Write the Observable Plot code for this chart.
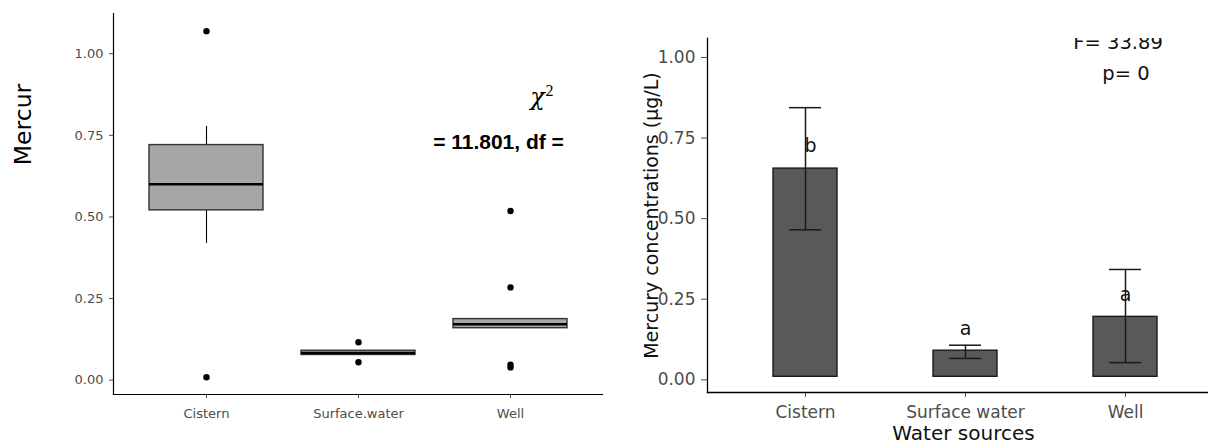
<!DOCTYPE html>
<html><head><meta charset="utf-8">
<script src="https://cdn.jsdelivr.net/npm/d3@7"></script>
<script src="https://cdn.jsdelivr.net/npm/@observablehq/plot@0.6"></script>
<style>
body{margin:0;background:#fff;}
#wrap{position:relative;width:1208px;height:443px;overflow:hidden;background:#fff;}
#left{position:absolute;left:0;top:0;width:610px;height:443px;}
#right{position:absolute;left:610px;top:0;width:612px;height:443px;}
#wrap svg{max-width:none !important;display:block;}
</style></head><body><div id="wrap"><div id="left"></div><div id="right"></div></div>
<script>
// ---- Left panel: boxplot ----
const boxCategories = ["Cistern", "Surface.water", "Well"];
const boxLower  = [0.410, 0.068, 0.150];
const boxQ1     = [0.511, 0.068, 0.150];
const boxMedian = [0.591, 0.074, 0.162];
const boxQ3     = [0.711, 0.081, 0.178];
const boxUpper  = [0.768, 0.081, 0.178];
const outlierCategory = ["Cistern", "Cistern", "Surface.water", "Surface.water", "Well", "Well", "Well", "Well"];
const outlierValue    = [1.060, 0.000, 0.107, 0.046, 0.509, 0.275, 0.038, 0.030];
const leftTicks = [0, 0.25, 0.5, 0.75, 1];
const leftTitle = "Mercur";
const chiText = "= 11.801, df =";

// ---- Right panel: bar chart with error bars ----
const barCategories = ["Cistern", "Surface water", "Well"];
const barMean = [0.646, 0.081, 0.186];
const barLow  = [0.456, 0.057, 0.044];
const barHigh = [0.835, 0.098, 0.333];
const barLetters = ["b", "a", "a"];
const rightTicks = [0, 0.25, 0.5, 0.75, 1];
const rightYTitle = "Mercury concentrations (µg/L)";
const rightXTitle = "Water sources";
const fText = "F= 33.89";
const pText = "p= 0";

const font = "DejaVu Sans";
const boxes = boxCategories.map((c, i) => ({cat: c, lo: boxLower[i], q1: boxQ1[i], med: boxMedian[i], q3: boxQ3[i], hi: boxUpper[i]}));
const outliers = outlierCategory.map((c, i) => ({cat: c, v: outlierValue[i]}));
const bars = barCategories.map((c, i) => ({cat: c, mean: barMean[i], lo: barLow[i], hi: barHigh[i], letter: barLetters[i]}));
const ident = d => d;

const left = Plot.plot({
  width: 610, height: 443,
  marginLeft: 113, marginRight: 8, marginTop: 13, marginBottom: 49,
  style: {fontFamily: font, background: "white", overflow: "visible"},
  x: {domain: boxCategories, paddingInner: 0.25, paddingOuter: 0.225, label: null},
  y: {domain: [-0.053, 1.114], label: null},
  marks: [
    Plot.axisY({ticks: leftTicks, tickFormat: d3.format(".2f"), tickSize: 4, tickPadding: 6, fontSize: 13, color: "#4d4d4d", dy: 3, label: null}),
    Plot.axisX({tickSize: 4, tickPadding: 10, fontSize: 13, color: "#4d4d4d", label: null}),
    Plot.frame({anchor: "left", stroke: "black", strokeWidth: 1.2}),
    Plot.frame({anchor: "bottom", stroke: "black", strokeWidth: 1.2}),
    Plot.ruleX(boxes, {x: "cat", y1: "lo", y2: "q1", stroke: "black", strokeWidth: 1.1}),
    Plot.ruleX(boxes, {x: "cat", y1: "q3", y2: "hi", stroke: "black", strokeWidth: 1.1}),
    Plot.barY(boxes, {x: "cat", y1: "q1", y2: "q3", fill: "#a6a6a6", stroke: "#333333", strokeWidth: 1.4}),
    Plot.tickY(boxes, {x: "cat", y: "med", stroke: "black", strokeWidth: 2.6}),
    Plot.dot(outliers, {x: "cat", y: "v", r: 3.2, fill: "black", stroke: "none"}),
    Plot.text(["χ"], {text: ident, frameAnchor: "top-left", dx: 424, dy: 91.5, fontSize: 24, fontStyle: "italic", fontFamily: "DejaVu Serif", textAnchor: "middle", lineAnchor: "bottom", fill: "black"}),
    Plot.text(["2"], {text: ident, frameAnchor: "top-left", dx: 436, dy: 82, fontSize: 16, fontFamily: "Liberation Serif", textAnchor: "middle", lineAnchor: "bottom", fill: "black"}),
    Plot.text([chiText], {text: ident, frameAnchor: "top-left", dx: 385, dy: 135, fontSize: 21, fontWeight: "bold", fontFamily: "Liberation Sans", textAnchor: "middle", lineAnchor: "bottom", fill: "black"}),
    Plot.text([leftTitle], {text: ident, frameAnchor: "top-left", dx: -83, dy: 111, rotate: -90, fontSize: 23.5, textAnchor: "middle", lineAnchor: "bottom", fill: "black"})
  ]
});
document.getElementById("left").appendChild(left);

const right = Plot.plot({
  width: 612, height: 443,
  marginLeft: 97, marginRight: 0, marginTop: 38, marginBottom: 51,
  style: {fontFamily: font, background: "white", overflow: "visible"},
  x: {domain: barCategories, paddingInner: 0.6, paddingOuter: 0.4, label: null},
  y: {domain: [-0.0487, 1.0496], label: null},
  marks: [
    Plot.axisY({ticks: rightTicks, tickFormat: d3.format(".2f"), tickSize: 6, tickPadding: 6, fontSize: 17, color: "#4d4d4d", dy: 3, label: null}),
    Plot.axisX({tickSize: 5, tickPadding: 8, fontSize: 17, color: "#4d4d4d", label: null}),
    Plot.frame({anchor: "left", stroke: "black", strokeWidth: 1.3}),
    Plot.frame({anchor: "bottom", stroke: "black", strokeWidth: 1.3}),
    Plot.barY(bars, {x: "cat", y: "mean", fill: "#595959", stroke: "#1a1a1a", strokeWidth: 1.4}),
    Plot.ruleX(bars, {x: "cat", y1: "lo", y2: "hi", stroke: "#1a1a1a", strokeWidth: 1.5}),
    Plot.tickY(bars, {x: "cat", y: "lo", insetLeft: 16, insetRight: 16, stroke: "#1a1a1a", strokeWidth: 1.5}),
    Plot.tickY(bars, {x: "cat", y: "hi", insetLeft: 16, insetRight: 16, stroke: "#1a1a1a", strokeWidth: 1.5}),
    Plot.text(bars.filter(d => d.letter === "b"), {x: "cat", y: d => d.mean + 0.05, text: "letter", dx: 5, fontSize: 19, fill: "#111", lineAnchor: "bottom", textAnchor: "middle"}),
    Plot.text(bars.filter(d => d.letter !== "b"), {x: "cat", y: d => d.mean + 0.05, text: "letter", fontSize: 19, fill: "#111", lineAnchor: "bottom", textAnchor: "middle"}),
    Plot.text([fText], {text: ident, frameAnchor: "top-left", dx: 410.5, dy: 10, fontSize: 19.5, fill: "#111", lineAnchor: "bottom", textAnchor: "middle", clip: true}),
    Plot.text([pText], {text: ident, frameAnchor: "top-left", dx: 418.5, dy: 41, fontSize: 19.5, fill: "#111", lineAnchor: "bottom", textAnchor: "middle"}),
    Plot.text([rightYTitle], {text: ident, frameAnchor: "top-left", dx: -50, dy: 177, rotate: -90, fontSize: 19, fill: "#111", lineAnchor: "bottom", textAnchor: "middle"}),
    Plot.text([rightXTitle], {text: ident, frameAnchor: "bottom-left", dx: 256, dy: 47, fontSize: 20, fill: "#111", lineAnchor: "bottom", textAnchor: "middle"})
  ]
});
document.getElementById("right").appendChild(right);
</script>
</body></html>
